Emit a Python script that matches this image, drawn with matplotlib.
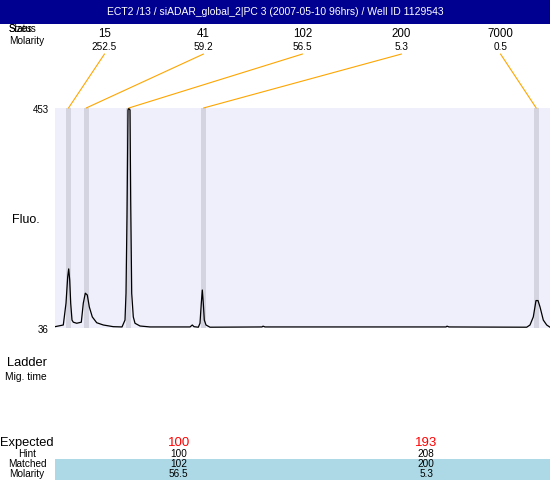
import matplotlib
matplotlib.use('Agg')
import matplotlib.pyplot as plt
from matplotlib.patches import Rectangle, ConnectionPatch

plt.rcParams['font.family'] = ['Liberation Sans', 'DejaVu Sans']

title = 'ECT2 /13 / siADAR_global_2|PC 3 (2007-05-10 96hrs) / Well ID 1129543'

# ladder peaks
sizes = [15, 41, 102, 200, 7000]
molarity = [252.5, 59.2, 56.5, 5.3, 0.5]
peak_times = [13.5, 31.2, 73.8, 148.5, 481.2]

# electropherogram trace (time in plot units, fluorescence)
trace_t = [0, 8.3, 11, 12.7, 13.7, 14.7, 15.7, 17, 18.3, 21.7, 26.3, 28.3, 30.3,
           32.3, 34.3, 37.3, 41.7, 48.3, 58.3, 67, 70, 71, 72, 73, 73.7, 75, 75.7,
           76.7, 78.3, 80, 85, 95, 135, 137.3, 139, 143.3, 145, 146.3, 147.3, 148.3,
           149.3, 151, 155, 207, 208, 210, 391, 392, 394, 471.7, 475, 478.3, 481,
           483, 485, 488.3, 491.7, 495]
trace_fluo = [38.5, 41.7, 83, 133, 148, 127, 83, 51, 47, 45, 47, 83, 102,
              98.5, 76, 57, 46, 41.7, 38.5, 38, 51, 101.8, 247, 449, 453, 449, 278,
              101.8, 57, 45, 39.8, 38, 38, 41.7, 38.5, 37.5, 45, 83, 108, 83,
              51, 41.7, 37.5, 38, 39.5, 38, 38, 39.5, 38, 37.5, 41.7, 57, 88,
              88, 76, 51, 41.7, 37.5]

# table below
expected = [100, 193]
hint = [100, 208]
matched = [102, 200]
matched_molarity = [56.5, 5.3]

W, H = 550, 480


def px(x, y):
    return x / W, 1 - y / H


fig = plt.figure(figsize=(5.5, 4.8), dpi=100)

# header band
fig.patches.append(Rectangle((0, 1 - 24 / H), 1, 24 / H, transform=fig.transFigure,
                             facecolor='#000090', edgecolor='none', zorder=0))
fig.text(*px(275, 12), title, color='white', fontsize=7.5, ha='center', va='center')

# main plot
ax = fig.add_axes([55 / W, 1 - 328 / H, 495 / W, 220 / H])
ax.set_facecolor('#efeffc')
for t in peak_times:
    ax.axvspan(t - 2.6, t + 2.6, color='#d4d4e0', lw=0)
ax.plot(trace_t, trace_fluo, color='black', lw=0.9)
ax.set_xlim(0, 495)
ax.set_ylim(36, 453)
ax.set_xticks([])
ax.set_yticks([])
for s in ax.spines.values():
    s.set_visible(False)

fig.text(*px(49, 110), '453', fontsize=7, ha='right', va='center')
fig.text(*px(49, 330), '36', fontsize=7, ha='right', va='center')
fig.text(*px(12, 220), 'Fluo.', fontsize=9, ha='left', va='center')

# ladder size labels on top
fig.text(*px(9, 29), 'Sizes', fontsize=7, ha='left', va='center')
fig.text(*px(9, 29), 'Status', fontsize=7, ha='left', va='center')
fig.text(*px(9, 41), 'Molarity', fontsize=7.2, ha='left', va='center')
col_w = 495 / len(sizes)
for i, (s, m, t) in enumerate(zip(sizes, molarity, peak_times)):
    cx = 55 + col_w * (i + 0.5)
    fig.text(*px(cx, 34), str(s), fontsize=8.3, ha='center', va='center')
    fig.text(*px(cx, 47), '%.1f' % m, fontsize=7.2, ha='center', va='center')
    con = ConnectionPatch(xyA=(cx, H - 54), coordsA='figure pixels',
                          xyB=(t, 453), coordsB=ax.transData,
                          color='orange', lw=0.8)
    fig.add_artist(con)

# ladder section
fig.text(*px(27, 363), 'Ladder', fontsize=9.3, ha='center', va='center')
fig.text(*px(26, 377), 'Mig. time', fontsize=7.4, ha='center', va='center')

# expected / matched table
fig.patches.append(Rectangle((55 / W, 0), 495 / W, 21 / H, transform=fig.transFigure,
                             facecolor='#add8e6', edgecolor='none', zorder=0))
fig.text(*px(27, 443), 'Expected', fontsize=9.3, ha='center', va='center')
fig.text(*px(27, 454), 'Hint', fontsize=7.2, ha='center', va='center')
fig.text(*px(27, 464), 'Matched', fontsize=7.2, ha='center', va='center')
fig.text(*px(27, 474), 'Molarity', fontsize=7.2, ha='center', va='center')
tcol_w = 495 / len(expected)
for i in range(len(expected)):
    cx = 55 + tcol_w * (i + 0.5)
    fig.text(*px(cx, 443), str(expected[i]), fontsize=9.5, color='red', ha='center', va='center')
    fig.text(*px(cx, 454), str(hint[i]), fontsize=7.2, ha='center', va='center')
    fig.text(*px(cx, 464), str(matched[i]), fontsize=7.2, ha='center', va='center')
    fig.text(*px(cx, 474), '%.1f' % matched_molarity[i], fontsize=7.2, ha='center', va='center')

fig.savefig('out.png', dpi=100)
